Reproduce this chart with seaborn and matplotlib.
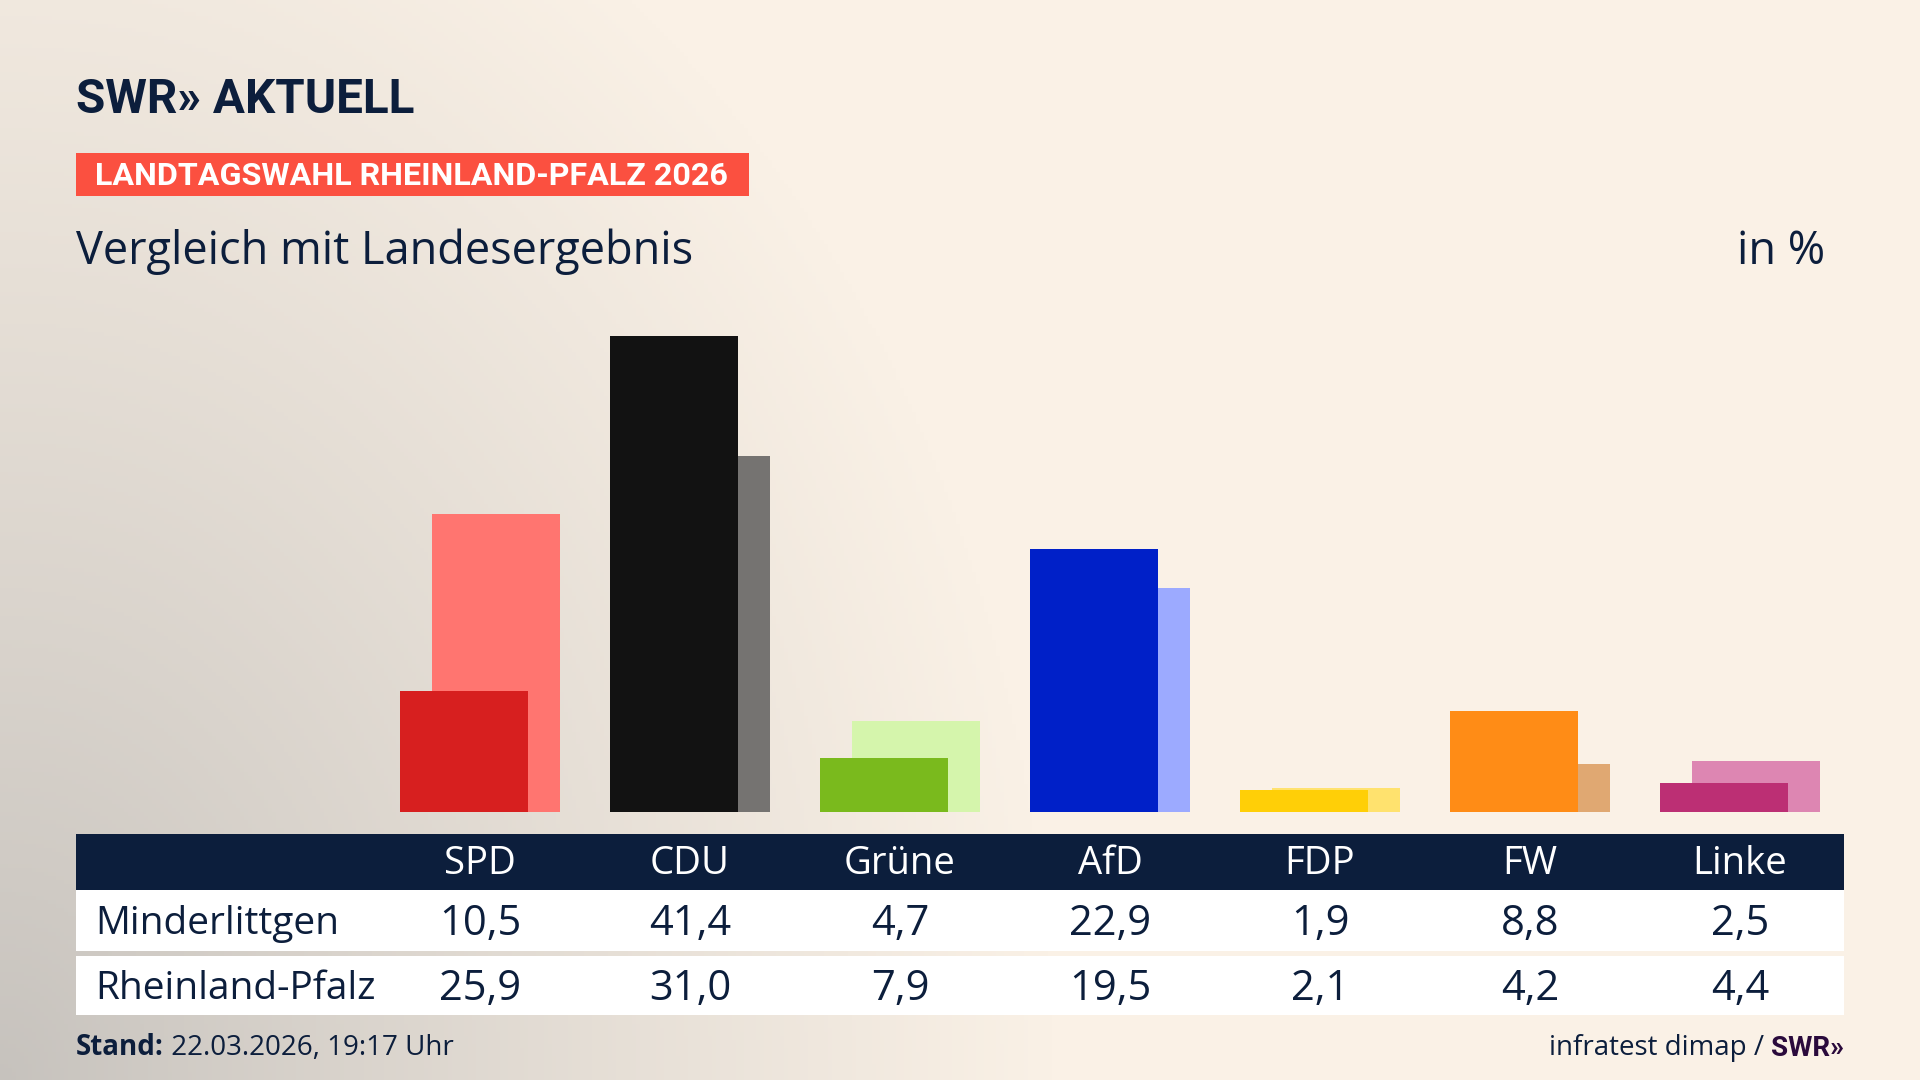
import numpy as np
import pandas as pd
import matplotlib
matplotlib.use('Agg')
import matplotlib.pyplot as plt
from matplotlib.patches import Rectangle
import seaborn as sns

# Data
parties = ['SPD', 'CDU', 'Grüne', 'AfD', 'FDP', 'FW', 'Linke']
minderlittgen = [10.5, 41.4, 4.7, 22.9, 1.9, 8.8, 2.5]
rheinland_pfalz = [25.9, 31.0, 7.9, 19.5, 2.1, 4.2, 4.4]
colors_local = ['#d71f1f', '#121212', '#7aba1d', '#0020c8', '#ffcf07', '#ff8c16', '#bc2f74']
colors_land = ['#ff7570', '#757371', '#d5f5ac', '#9caaff', '#ffe26e', '#e0a872', '#dd86b2']
row_labels = ['Minderlittgen', 'Rheinland-Pfalz']

W, H = 1920, 1080
NAVY = '#0c1e3c'

sns.set_theme(style='white')
plt.rcParams['font.family'] = ['Open Sans', 'DejaVu Sans']

fig = plt.figure(figsize=(19.2, 10.8), dpi=100)
renderer = fig.canvas.get_renderer()

# background gradient (grey bottom-left -> cream)
yy, xx = np.mgrid[0:H:4, 0:W:4]
d = np.sqrt((xx / 1050.0) ** 2 + ((H - yy) / 1350.0) ** 2)
t = np.clip(d, 0, 1) ** 0.9
grey = np.array([198, 194, 189]) / 255
cream = np.array([250, 241, 230]) / 255
img = grey[None, None, :] * (1 - t[..., None]) + cream[None, None, :] * t[..., None]
bg = fig.add_axes([0, 0, 1, 1], zorder=-10)
bg.imshow(img, aspect='auto', extent=[0, 1, 0, 1], origin='upper')
bg.axis('off')


def fx(x):
    return x / W


def fy(y):
    return 1 - y / H


def fit_width(txt, target_px):
    # shrink/grow font so the text spans target_px
    w = txt.get_window_extent(renderer).width
    txt.set_fontsize(txt.get_fontsize() * target_px / w)


# bar chart
px_per_unit = 210.0
ax = fig.add_axes([fx(400), 268 / H, 1420 / W, 520 / H])
ax.patch.set_alpha(0)

df_local = pd.DataFrame({'pos': np.arange(len(parties)) * 1.0, 'value': minderlittgen, 'party': parties})
df_land = pd.DataFrame({'pos': np.arange(len(parties)) + 32 / px_per_unit, 'value': rheinland_pfalz, 'party': parties})

sns.barplot(data=df_land, x='pos', y='value', hue='party', palette=dict(zip(parties, colors_land)),
            native_scale=True, width=128 / px_per_unit, dodge=False, errorbar=None,
            saturation=1, legend=False, linewidth=0, ax=ax)
sns.barplot(data=df_local, x='pos', y='value', hue='party', palette=dict(zip(parties, colors_local)),
            native_scale=True, width=128 / px_per_unit, dodge=False, errorbar=None,
            saturation=1, legend=False, linewidth=0, ax=ax)
ax.set_xlim(-64 / px_per_unit, 6 + 96 / px_per_unit)
ax.set_ylim(0, 520 / 11.5)
ax.axis('off')

# header
logo = fig.text(fx(76), fy(113), 'SWR» AKTUELL', fontsize=40, fontweight='bold', color=NAVY,
                family=['Roboto', 'DejaVu Sans'], va='baseline', ha='left')
fit_width(logo, 338)
fig.add_artist(Rectangle((fx(76), fy(196)), 673 / W, 43 / H, transform=fig.transFigure,
                         facecolor='#fb5040', edgecolor='none'))
badge = fig.text(fx(95), fy(176), 'LANDTAGSWAHL RHEINLAND-PFALZ 2026', fontsize=23, fontweight='bold',
                 color='white', family=['Roboto', 'DejaVu Sans'], va='center', ha='left')
fit_width(badge, 634)
fig.text(fx(76), fy(252), 'Vergleich mit Landesergebnis', fontsize=32.5, color=NAVY, va='center', ha='left')
fig.text(fx(1825), fy(252), 'in %', fontsize=32.5, color=NAVY, va='center', ha='right')

# table
fig.add_artist(Rectangle((fx(76), fy(890)), 1768 / W, 56 / H, transform=fig.transFigure,
                         facecolor=NAVY, edgecolor='none'))
fig.add_artist(Rectangle((fx(76), fy(951)), 1768 / W, 61 / H, transform=fig.transFigure,
                         facecolor='white', edgecolor='none'))
fig.add_artist(Rectangle((fx(76), fy(1015)), 1768 / W, 59 / H, transform=fig.transFigure,
                         facecolor='white', edgecolor='none'))

col_x = [480 + 210 * i for i in range(len(parties))]
for i, p in enumerate(parties):
    fig.text(fx(col_x[i]), fy(864), p, fontsize=27.5, color='white', ha='center', va='center')
    fig.text(fx(col_x[i]), fy(924), f'{minderlittgen[i]:.1f}'.replace('.', ','), fontsize=30,
             color=NAVY, ha='center', va='center')
    fig.text(fx(col_x[i]), fy(989), f'{rheinland_pfalz[i]:.1f}'.replace('.', ','), fontsize=30,
             color=NAVY, ha='center', va='center')
fig.text(fx(95), fy(924), row_labels[0], fontsize=28, color=NAVY, ha='left', va='center')
fig.text(fx(95), fy(989), row_labels[1], fontsize=28, color=NAVY, ha='left', va='center')

# footer
t1 = fig.text(fx(76), fy(1062), 'Stand:', fontsize=20, fontweight='bold', color=NAVY, ha='left', va='bottom')
ax.annotate(' 22.03.2026, 19:17 Uhr', xy=(1, 0), xycoords=t1, fontsize=20, color=NAVY,
            ha='left', va='bottom', annotation_clip=False)
t2 = fig.text(fx(1844), fy(1062), 'SWR»', fontsize=20, fontweight='bold', color='#2a0a3c',
              family=['Roboto', 'DejaVu Sans'], ha='right', va='bottom')
ax.annotate('infratest dimap / ', xy=(0, 0), xycoords=t2, fontsize=20, color=NAVY,
            ha='right', va='bottom', annotation_clip=False)

fig.savefig('out.png', dpi=100)
